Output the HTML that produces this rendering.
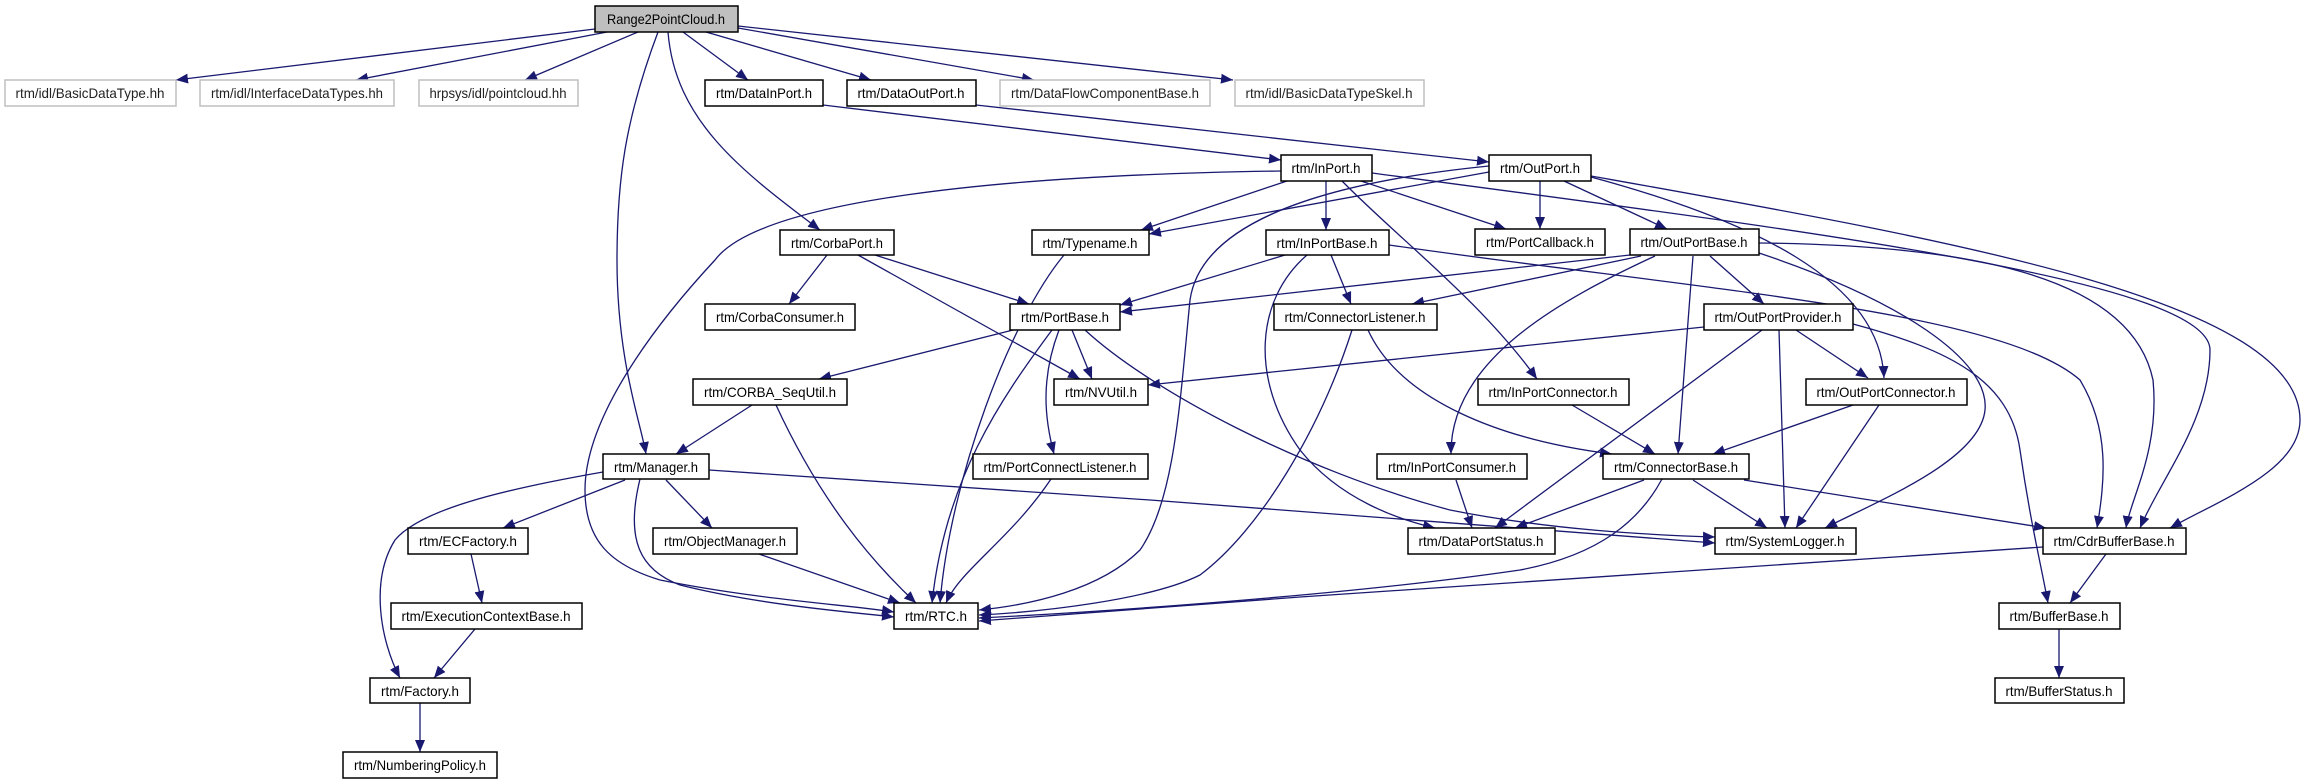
<!DOCTYPE html>
<html><head><meta charset="utf-8"><style>
html,body{margin:0;padding:0;background:#fff;}
svg{display:block;}
text{font-family:"Liberation Sans",sans-serif;font-size:14px;}
</style></head><body>
<svg width="2315" height="784" viewBox="0 0 2315 784" xmlns="http://www.w3.org/2000/svg">
<defs>
<marker id="a" markerUnits="userSpaceOnUse" markerWidth="14" markerHeight="12" refX="12" refY="5" orient="auto">
<path d="M0,0 L12,5 L0,10 Z" fill="#191970"/>
</marker>
</defs>
<g fill="none" stroke="#191970" stroke-width="1.3" marker-end="url(#a)">
<path d="M595,29 L176,80"/>
<path d="M607,32 L356,80"/>
<path d="M638,32 L525,80"/>
<path d="M683,32 L748,80"/>
<path d="M706,32 L871,80"/>
<path d="M738,28 L1034,80"/>
<path d="M738,26 L1233,80"/>
<path d="M658,32 C625,120 617,180 617,260 C617,360 640,420 646,454"/>
<path d="M668,32 C675,120 740,170 820,230"/>
<path d="M823,105 L1281,160"/>
<path d="M976,105 L1489,162"/>
<path d="M1281,171 C1000,175 760,200 715,260 C650,330 585,420 585,490 C585,540 610,565 660,580 C760,600 850,605 894,612"/>
<path d="M640,479 C625,540 640,570 680,585 C760,605 850,612 894,617"/>
<path d="M1287,181 L1141,230"/>
<path d="M1489,172 L1149,234"/>
<path d="M1326,181 L1326,230"/>
<path d="M1361,181 L1506,229"/>
<path d="M1342,181 C1400,240 1480,300 1537,379"/>
<path d="M1372,173 C1800,230 2210,280 2210,350 C2210,420 2160,480 2140,528"/>
<path d="M1389,245 C1700,290 2000,310 2080,380 C2110,430 2105,480 2097,528"/>
<path d="M1759,243 C1950,245 2130,270 2153,380 C2160,450 2130,500 2126,528"/>
<path d="M1591,176 C1950,240 2300,300 2300,420 C2300,470 2220,500 2170,528"/>
<path d="M1540,181 L1540,229"/>
<path d="M1564,181 L1667,229"/>
<path d="M1591,177 C1750,220 1880,280 1884,378"/>
<path d="M1489,166 C1300,185 1200,230 1190,300 C1180,400 1175,500 1140,550 C1100,590 1030,605 979,610"/>
<path d="M1352,330 C1320,430 1260,530 1200,575 C1150,600 1040,612 979,615"/>
<path d="M1662,479 C1640,520 1600,555 1520,570 C1350,595 1100,612 979,618"/>
<path d="M2043,547 L1300,597 L979,621"/>
<path d="M1285,255 L1120,305"/>
<path d="M1630,255 L1120,312"/>
<path d="M1331,255 L1351,304"/>
<path d="M1641,256 L1412,304"/>
<path d="M1307,255 C1255,300 1250,380 1300,450 C1340,500 1400,520 1435,528"/>
<path d="M1655,256 C1560,300 1450,360 1451,454"/>
<path d="M1693,256 L1678,454"/>
<path d="M1710,256 L1764,304"/>
<path d="M1759,253 C1900,300 1990,360 1985,410 C1980,460 1880,500 1825,528"/>
<path d="M1704,327 L1148,385"/>
<path d="M1762,330 L1495,528"/>
<path d="M1779,330 L1785,528"/>
<path d="M1796,330 L1868,378"/>
<path d="M1853,324 C1950,350 2010,380 2020,450 C2030,520 2040,560 2048,603"/>
<path d="M1853,405 L1713,454"/>
<path d="M1879,405 L1796,528"/>
<path d="M1572,405 L1655,454"/>
<path d="M1368,330 C1400,400 1500,440 1612,454"/>
<path d="M1644,480 L1515,528"/>
<path d="M1693,480 L1767,528"/>
<path d="M1744,480 L2046,528"/>
<path d="M1456,480 L1472,528"/>
<path d="M1085,330 C1150,390 1300,470 1450,510 C1550,530 1650,535 1715,537"/>
<path d="M709,470 L1150,500 L1715,543"/>
<path d="M1013,330 L819,379"/>
<path d="M1052,330 C1000,400 945,480 932,603"/>
<path d="M1059,330 C1040,380 1045,420 1054,454"/>
<path d="M1072,330 L1092,379"/>
<path d="M858,255 L1080,379"/>
<path d="M875,255 L1029,304"/>
<path d="M827,255 L789,304"/>
<path d="M752,405 L676,454"/>
<path d="M776,405 C820,500 870,560 916,603"/>
<path d="M1064,255 C1010,320 950,480 940,603"/>
<path d="M1051,479 C1010,540 960,570 946,603"/>
<path d="M625,480 L503,528"/>
<path d="M666,480 L712,528"/>
<path d="M603,472 C500,490 420,510 395,540 C370,580 380,640 400,678"/>
<path d="M759,554 L900,603"/>
<path d="M471,554 L482,603"/>
<path d="M475,629 L434,678"/>
<path d="M420,703 L420,752"/>
<path d="M2106,554 L2070,603"/>
<path d="M2059,629 L2059,678"/>
</g>
<g stroke-width="1.5">
<rect x="595" y="6" width="143" height="26" fill="#bfbfbf" stroke="#000"/>
<g fill="#fff" stroke="#bfbfbf">
<rect x="5" y="80" width="171" height="26"/>
<rect x="200" y="80" width="194" height="26"/>
<rect x="419" y="80" width="159" height="26"/>
<rect x="1000" y="80" width="210" height="26"/>
<rect x="1235" y="80" width="189" height="26"/>
</g>
<g fill="#fff" stroke="#000">
<rect x="705" y="80" width="118" height="26"/>
<rect x="847" y="80" width="129" height="26"/>
<rect x="1281" y="155" width="91" height="26"/>
<rect x="1489" y="155" width="102" height="26"/>
<rect x="780" y="230" width="114" height="25"/>
<rect x="1032" y="230" width="117" height="25"/>
<rect x="1266" y="230" width="123" height="25"/>
<rect x="1475" y="229" width="130" height="26"/>
<rect x="1630" y="229" width="129" height="26"/>
<rect x="705" y="304" width="150" height="26"/>
<rect x="1010" y="304" width="110" height="26"/>
<rect x="1274" y="304" width="163" height="26"/>
<rect x="1704" y="304" width="149" height="26"/>
<rect x="693" y="379" width="154" height="26"/>
<rect x="1054" y="379" width="94" height="26"/>
<rect x="1478" y="379" width="151" height="26"/>
<rect x="1806" y="379" width="161" height="26"/>
<rect x="603" y="454" width="106" height="25"/>
<rect x="973" y="454" width="175" height="25"/>
<rect x="1377" y="454" width="150" height="25"/>
<rect x="1603" y="454" width="146" height="25"/>
<rect x="408" y="528" width="120" height="26"/>
<rect x="653" y="528" width="144" height="26"/>
<rect x="1408" y="528" width="147" height="26"/>
<rect x="1715" y="528" width="141" height="26"/>
<rect x="2043" y="528" width="143" height="26"/>
<rect x="391" y="603" width="191" height="26"/>
<rect x="894" y="603" width="84" height="26"/>
<rect x="1999" y="603" width="121" height="26"/>
<rect x="370" y="678" width="100" height="25"/>
<rect x="343" y="752" width="154" height="26"/>
<rect x="1995" y="678" width="129" height="25"/>
</g>
</g>
<g text-anchor="middle" lengthAdjust="spacingAndGlyphs">
<text x="666" y="24" textLength="118" lengthAdjust="spacingAndGlyphs">Range2PointCloud.h</text>
<g fill="#222">
<text x="90" y="98" textLength="149" lengthAdjust="spacingAndGlyphs">rtm/idl/BasicDataType.hh</text>
<text x="297" y="98" textLength="172" lengthAdjust="spacingAndGlyphs">rtm/idl/InterfaceDataTypes.hh</text>
<text x="498" y="98" textLength="137" lengthAdjust="spacingAndGlyphs">hrpsys/idl/pointcloud.hh</text>
<text x="1105" y="98" textLength="188" lengthAdjust="spacingAndGlyphs">rtm/DataFlowComponentBase.h</text>
<text x="1329" y="98" textLength="167" lengthAdjust="spacingAndGlyphs">rtm/idl/BasicDataTypeSkel.h</text>
</g>
<text x="764" y="98" textLength="96" lengthAdjust="spacingAndGlyphs">rtm/DataInPort.h</text>
<text x="911" y="98" textLength="107" lengthAdjust="spacingAndGlyphs">rtm/DataOutPort.h</text>
<text x="1326" y="173" textLength="69" lengthAdjust="spacingAndGlyphs">rtm/InPort.h</text>
<text x="1540" y="173" textLength="80" lengthAdjust="spacingAndGlyphs">rtm/OutPort.h</text>
<text x="837" y="248" textLength="92" lengthAdjust="spacingAndGlyphs">rtm/CorbaPort.h</text>
<text x="1090" y="248" textLength="95" lengthAdjust="spacingAndGlyphs">rtm/Typename.h</text>
<text x="1327" y="248" textLength="101" lengthAdjust="spacingAndGlyphs">rtm/InPortBase.h</text>
<text x="1540" y="247" textLength="108" lengthAdjust="spacingAndGlyphs">rtm/PortCallback.h</text>
<text x="1694" y="247" textLength="107" lengthAdjust="spacingAndGlyphs">rtm/OutPortBase.h</text>
<text x="780" y="322" textLength="128" lengthAdjust="spacingAndGlyphs">rtm/CorbaConsumer.h</text>
<text x="1065" y="322" textLength="88" lengthAdjust="spacingAndGlyphs">rtm/PortBase.h</text>
<text x="1355" y="322" textLength="141" lengthAdjust="spacingAndGlyphs">rtm/ConnectorListener.h</text>
<text x="1778" y="322" textLength="127" lengthAdjust="spacingAndGlyphs">rtm/OutPortProvider.h</text>
<text x="770" y="397" textLength="132" lengthAdjust="spacingAndGlyphs">rtm/CORBA_SeqUtil.h</text>
<text x="1101" y="397" textLength="72" lengthAdjust="spacingAndGlyphs">rtm/NVUtil.h</text>
<text x="1553" y="397" textLength="129" lengthAdjust="spacingAndGlyphs">rtm/InPortConnector.h</text>
<text x="1886" y="397" textLength="139" lengthAdjust="spacingAndGlyphs">rtm/OutPortConnector.h</text>
<text x="656" y="472" textLength="84" lengthAdjust="spacingAndGlyphs">rtm/Manager.h</text>
<text x="1060" y="472" textLength="153" lengthAdjust="spacingAndGlyphs">rtm/PortConnectListener.h</text>
<text x="1452" y="472" textLength="128" lengthAdjust="spacingAndGlyphs">rtm/InPortConsumer.h</text>
<text x="1676" y="472" textLength="124" lengthAdjust="spacingAndGlyphs">rtm/ConnectorBase.h</text>
<text x="468" y="546" textLength="98" lengthAdjust="spacingAndGlyphs">rtm/ECFactory.h</text>
<text x="725" y="546" textLength="122" lengthAdjust="spacingAndGlyphs">rtm/ObjectManager.h</text>
<text x="1481" y="546" textLength="125" lengthAdjust="spacingAndGlyphs">rtm/DataPortStatus.h</text>
<text x="1785" y="546" textLength="119" lengthAdjust="spacingAndGlyphs">rtm/SystemLogger.h</text>
<text x="2114" y="546" textLength="121" lengthAdjust="spacingAndGlyphs">rtm/CdrBufferBase.h</text>
<text x="486" y="621" textLength="169" lengthAdjust="spacingAndGlyphs">rtm/ExecutionContextBase.h</text>
<text x="936" y="621" textLength="62" lengthAdjust="spacingAndGlyphs">rtm/RTC.h</text>
<text x="2059" y="621" textLength="99" lengthAdjust="spacingAndGlyphs">rtm/BufferBase.h</text>
<text x="420" y="696" textLength="78" lengthAdjust="spacingAndGlyphs">rtm/Factory.h</text>
<text x="420" y="770" textLength="132" lengthAdjust="spacingAndGlyphs">rtm/NumberingPolicy.h</text>
<text x="2059" y="696" textLength="107" lengthAdjust="spacingAndGlyphs">rtm/BufferStatus.h</text>
</g>
</svg>
</body></html>
